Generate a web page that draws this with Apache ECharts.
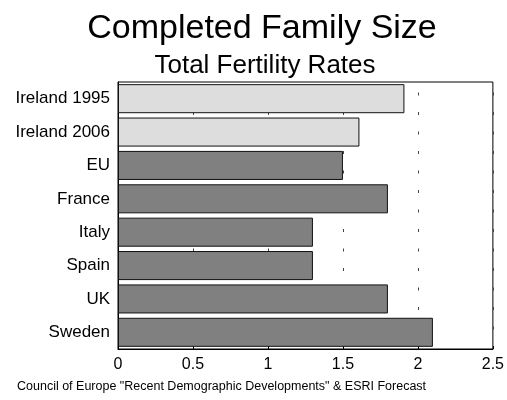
<!DOCTYPE html>
<html><head><meta charset="utf-8">
<script src="https://cdn.jsdelivr.net/npm/echarts@6/dist/echarts.min.js"></script>
<style>html,body{margin:0;padding:0;background:#fff}#c{width:507px;height:400px}</style>
</head><body><div id="c"></div>
<script>
const categories = ["Ireland 1995","Ireland 2006","EU","France","Italy","Spain","UK","Sweden"];
const values = [1.91, 1.61, 1.5, 1.8, 1.3, 1.3, 1.8, 2.1];
const irelandCount = 2;
const xTicks = [0, 0.5, 1, 1.5, 2, 2.5];
const titleText = "Completed Family Size";
const subtitleText = "Total Fertility Rates";
const sourceText = 'Council of Europe "Recent Demographic Developments" & ESRI Forecast';

const chart = echarts.init(document.getElementById('c'));
const font = 'Liberation Sans, Arial, sans-serif';
chart.setOption({
  backgroundColor: '#fff',
  animation: false,
  title: [
    {text: titleText, left: 257, top: 7, textAlign: 'center',
     textStyle: {fontFamily: font, fontSize: 34, fontWeight: 'normal', color: '#000'}},
    {text: subtitleText, left: 260, top: 48, textAlign: 'center',
     textStyle: {fontFamily: font, fontSize: 26, fontWeight: 'normal', color: '#000'}},
    {text: sourceText, left: 12, top: 375,
     textStyle: {fontFamily: font, fontSize: 12.5, fontWeight: 'normal', color: '#000'}}
  ],
  grid: {left: 118, right: 13, top: 82, bottom: 51, show: true, borderColor: '#000', borderWidth: 1},
  xAxis: {
    type: 'value', min: 0, max: 2.5, interval: 0.5,
    axisLine: {show: true, lineStyle: {color: '#000'}},
    axisTick: {show: true, inside: true, length: 3, lineStyle: {color: '#000'}},
    axisLabel: {fontFamily: font, fontSize: 16, color: '#000', margin: 8,
      formatter: v => xTicks.includes(v) ? String(v) : ''},
    splitLine: {show: true, lineStyle: {color: '#444', width: 1, type: [3, 16.5], dashOffset: 9}}
  },
  yAxis: {
    type: 'category', data: categories, inverse: true,
    axisLine: {show: true, lineStyle: {color: '#000'}},
    axisTick: {show: false},
    axisLabel: {fontFamily: font, fontSize: 17, color: '#000', margin: 8}
  },
  series: [{
    type: 'bar', barCategoryGap: '13%',
    data: values.map((v, i) => ({value: v, itemStyle: {color: i < irelandCount ? '#dddddd' : '#808080'}})),
    itemStyle: {borderColor: '#111', borderWidth: 1}
  }]
});
</script></body></html>
